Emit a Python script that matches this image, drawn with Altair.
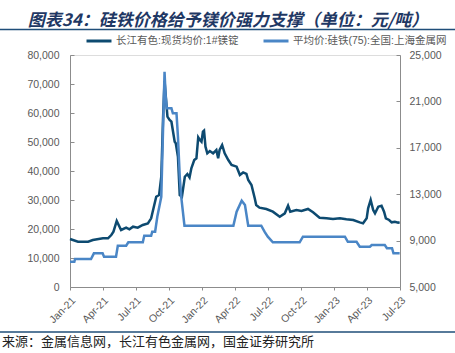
import altair as alt
import pandas as pd

# ---------------- data ----------------
series_names = ["长江有色:现货均价:1#镁锭", "平均价:硅铁(75):全国:上海金属网"]

mg_dates = [
    "2021-01-01", "2021-01-23", "2021-02-20", "2021-03-05", "2021-04-02", "2021-04-16",
    "2021-04-25", "2021-05-01", "2021-05-10", "2021-05-22", "2021-06-05", "2021-06-14",
    "2021-06-24", "2021-07-07", "2021-07-21", "2021-08-04", "2021-08-13", "2021-08-27",
    "2021-09-04", "2021-09-10", "2021-09-15", "2021-09-19", "2021-09-27", "2021-10-03",
    "2021-10-08", "2021-10-17", "2021-10-20", "2021-10-26", "2021-10-31", "2021-11-06",
    "2021-11-14", "2021-11-21", "2021-11-27", "2021-12-02", "2021-12-10", "2021-12-16",
    "2021-12-21", "2021-12-25", "2021-12-30", "2022-01-03", "2022-01-06", "2022-01-10",
    "2022-01-15", "2022-01-22", "2022-01-31", "2022-02-09", "2022-02-14", "2022-02-18",
    "2022-02-25", "2022-03-04", "2022-03-14", "2022-03-23", "2022-04-06", "2022-04-15",
    "2022-04-24", "2022-05-03", "2022-05-08", "2022-05-17", "2022-05-26", "2022-05-30",
    "2022-06-08", "2022-06-27", "2022-07-15", "2022-08-03", "2022-08-17", "2022-08-26",
    "2022-09-01", "2022-09-18", "2022-10-02", "2022-10-20", "2022-11-03", "2022-11-21",
    "2022-12-10", "2022-12-28", "2023-01-16", "2023-02-03", "2023-02-22", "2023-03-12",
    "2023-03-21", "2023-03-31", "2023-04-04", "2023-04-11", "2023-04-18", "2023-04-23",
    "2023-05-02", "2023-05-11", "2023-05-18", "2023-05-23", "2023-06-01", "2023-06-08",
    "2023-06-17", "2023-06-26", "2023-06-30",
]
mg_prices = [
    16550, 15620, 15620, 16200, 16790, 16790,
    17930, 19070, 22760, 19660, 20450, 19900,
    20800, 20450, 21380, 21950, 23680, 31140,
    31720, 38030, 58730, 71000, 58730, 57590,
    57000, 50100, 49550, 44930, 31720, 31140,
    38030, 38970, 37800, 40930, 43790, 44370,
    51600, 50800, 50100, 53550, 53900, 48380,
    46100, 46900, 46100, 47240, 44370, 47240,
    48970, 46100, 43790, 42070, 41490, 38620,
    39500, 38970, 36900, 35170, 30580, 28280,
    27360, 26900, 25970, 24250, 25400, 28040,
    25970, 26550, 26210, 26900, 25750, 23900,
    23680, 23450, 23680, 23330, 23100, 22300,
    21950, 23680, 27130, 30000, 26550, 25400,
    27700, 28040, 25970, 23680, 23100, 22300,
    22520, 22170, 22300,
]

fesi_dates = [
    "2021-01-01", "2021-01-13", "2021-01-15", "2021-02-28", "2021-03-08", "2021-04-01",
    "2021-04-05", "2021-05-08", "2021-05-13", "2021-06-05", "2021-06-11", "2021-07-21",
    "2021-07-25", "2021-08-13", "2021-08-16", "2021-08-24", "2021-08-30", "2021-09-10",
    "2021-09-19", "2021-09-22", "2021-09-25", "2021-10-08", "2021-10-12", "2021-10-22",
    "2021-10-26", "2021-10-31", "2021-11-04", "2021-11-13", "2022-03-28", "2022-04-06",
    "2022-04-20", "2022-04-29", "2022-05-08", "2022-06-13", "2022-06-22", "2022-07-01",
    "2022-07-15", "2022-09-27", "2022-10-06", "2023-01-30", "2023-02-07", "2023-03-03",
    "2023-03-12", "2023-04-09", "2023-04-14", "2023-05-20", "2023-05-26", "2023-06-09",
    "2023-06-13", "2023-06-30",
]
fesi_prices = [
    7180, 7180, 7410, 7410, 7900, 7900,
    7610, 7610, 8560, 8560, 8850, 8850,
    9420, 9420, 9770, 9770, 11060, 12780,
    23560, 21500, 20400, 20400, 19970, 19970,
    17960, 14510, 12780, 10280, 10280, 11490,
    12440, 12070, 10280, 10280, 9770, 9340,
    8850, 8850, 9340, 9340, 8900, 8900,
    8470, 8470, 8620, 8620, 8340, 8340,
    7900, 7900,
]

x_ticks = ["2021-01-01", "2021-04-01", "2021-07-01", "2021-10-01", "2022-01-01", "2022-04-01",
           "2022-07-01", "2022-10-01", "2023-01-01", "2023-04-01", "2023-07-01"]
left_ticks = [0, 10000, 20000, 30000, 40000, 50000, 60000, 70000, 80000]
right_ticks = [5000, 9000, 13000, 17000, 21000, 25000]

title_text = "图表34：硅铁价格给予镁价强力支撑（单位：元/吨）"
source_text = "来源：金属信息网，长江有色金属网，国金证券研究所"

# ---------------- styling ----------------
DARK = "#0D4A70"
LIGHT = "#4A86C6"
AXIS_GREY = "#8C8C8C"
LABEL_GREY = "#595959"
LABEL_FONT = "Liberation Sans, Noto Sans CJK SC"
X_LABEL_EXPR = "utcFormat(datum.value, '%b-%y')"


def ms(s):
    return int(pd.Timestamp(s, tz="UTC").value // 10**6)


mg_df = pd.DataFrame({"t": [ms(d) for d in mg_dates], "v": mg_prices, "s": series_names[0]})
fesi_df = pd.DataFrame({"t": [ms(d) for d in fesi_dates], "v": fesi_prices, "s": series_names[1]})
one = pd.DataFrame({"a": [0]})


def x_enc():
    return alt.X(
        "t:T",
        title=None,
        scale=alt.Scale(type="utc", domain=[ms(x_ticks[0]), ms(x_ticks[-1])]),
        axis=alt.Axis(
            values=[ms(d) for d in x_ticks],
            labelExpr=X_LABEL_EXPR,
            labelAngle=315,
            labelPadding=5,
            tickSize=3,
            grid=False,
            domainColor=AXIS_GREY,
            tickColor=AXIS_GREY,
            labelColor=LABEL_GREY,
            labelFont=LABEL_FONT,
            labelFontSize=10.5,
        ),
    )


def color_enc():
    return alt.Color(
        "s:N",
        scale=alt.Scale(domain=series_names, range=[DARK, LIGHT]),
        legend=alt.Legend(
            orient="none",
            legendX=15,
            legendY=-28,
            direction="horizontal",
            title=None,
            symbolType="stroke",
            symbolStrokeWidth=3,
            symbolSize=625,
            labelFontSize=10.5,
            labelColor=LABEL_GREY,
            labelFont=LABEL_FONT,
            columnPadding=18,
            labelOffset=3,
            labelLimit=400,
            padding=0,
        ),
    )


mg_line = alt.Chart(mg_df).mark_line(strokeWidth=2.5, interpolate="linear").encode(
    x=x_enc(),
    y=alt.Y(
        "v:Q",
        title=None,
        scale=alt.Scale(domain=[0, 80000], nice=False, zero=False),
        axis=alt.Axis(
            orient="left",
            values=left_ticks,
            format=",d",
            grid=False,
            tickSize={"expr": "-4"},
            labelPadding=15,
            domainColor=AXIS_GREY,
            tickColor=AXIS_GREY,
            labelColor=LABEL_GREY,
            labelFont=LABEL_FONT,
            labelFontSize=10.5,
        ),
    ),
    color=color_enc(),
)

fesi_line = alt.Chart(fesi_df).mark_line(strokeWidth=2.5, interpolate="linear").encode(
    x=x_enc(),
    y=alt.Y(
        "v:Q",
        title=None,
        scale=alt.Scale(domain=[5000, 25000], nice=False, zero=False),
        axis=alt.Axis(
            orient="right",
            values=right_ticks,
            format=",d",
            grid=False,
            tickSize={"expr": "-4"},
            labelPadding=13,
            domainColor=AXIS_GREY,
            tickColor=AXIS_GREY,
            labelColor=LABEL_GREY,
            labelFont=LABEL_FONT,
            labelFontSize=10.5,
        ),
    ),
    color=color_enc(),
)

title_mark = alt.Chart(one).mark_text(
    text=title_text,
    font="Noto Sans CJK SC",
    fontSize=17,
    fontWeight="bold",
    fontStyle="italic",
    color="#1F3864",
    align="center",
    baseline="alphabetic",
).encode(x=alt.value(158), y=alt.value(-29.5))

title_rule = alt.Chart(one).mark_rule(color="#1F4E79", strokeWidth=1.5).encode(
    x=alt.value(-70), x2=alt.value(385), y=alt.value(-25.5)
)

bottom_rule = alt.Chart(one).mark_rule(color="#1F4E79", strokeWidth=1.5).encode(
    x=alt.value(-70), x2=alt.value(385), y=alt.value(277)
)

source_mark = alt.Chart(one).mark_text(
    text=source_text,
    font="Noto Sans CJK SC",
    fontSize=13,
    color="#222222",
    align="left",
    baseline="alphabetic",
).encode(x=alt.value(-68), y=alt.value(291))

chart = (
    alt.layer(mg_line, fesi_line, title_mark, title_rule, bottom_rule, source_mark)
    .resolve_scale(y="independent")
    .properties(
        width=330,
        height=232,
        autosize=alt.AutoSizeParams(type="none"),
        padding={"left": 70, "top": 55, "right": 55, "bottom": 66},
    )
    .configure_view(stroke=None)
    .configure_axisX(
        labelAngle=315,
        labelPadding=5,
        tickSize=3,
        grid=False,
        labelExpr=X_LABEL_EXPR,
        tickCount={"interval": "month", "step": 3},
        domainColor=AXIS_GREY,
        tickColor=AXIS_GREY,
        labelColor=LABEL_GREY,
        labelFont=LABEL_FONT,
        labelFontSize=10.5,
    )
    .configure(background="white")
)

chart.save("out.html", embed_options={"renderer": "svg", "actions": False})
